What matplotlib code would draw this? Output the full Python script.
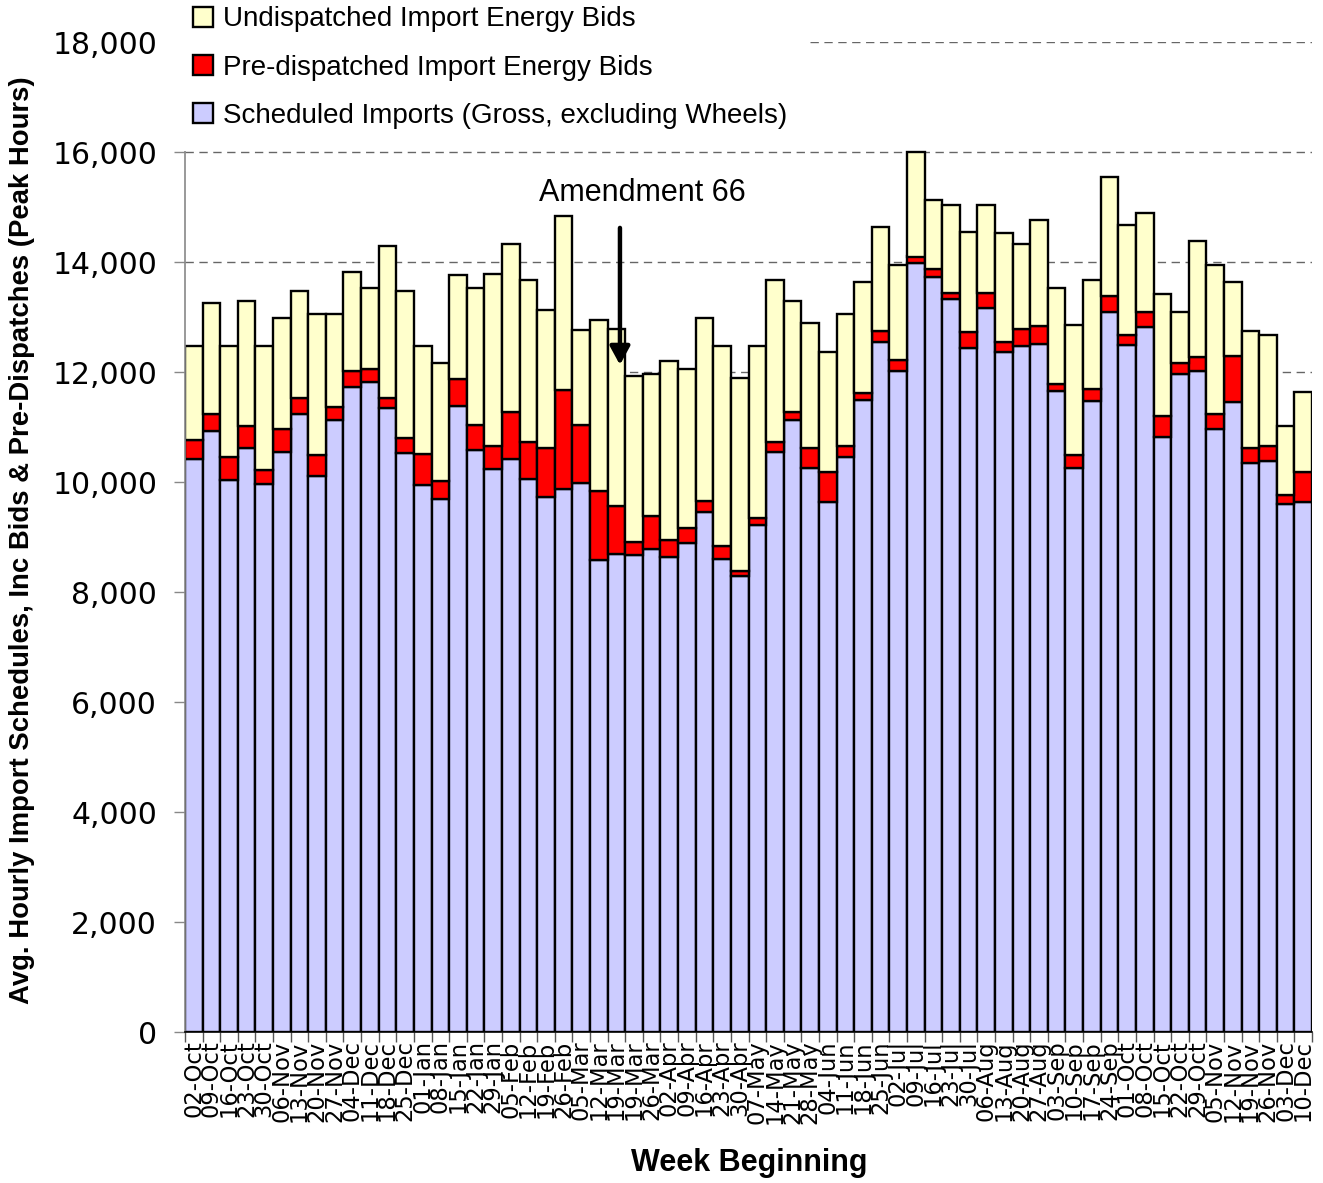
import numpy as np
import matplotlib
matplotlib.use("Agg")
import matplotlib.pyplot as plt
from matplotlib.ticker import FuncFormatter, FixedLocator

weeks = ["02-Oct", "09-Oct", "16-Oct", "23-Oct", "30-Oct", "06-Nov", "13-Nov", "20-Nov",
         "27-Nov", "04-Dec", "11-Dec", "18-Dec", "25-Dec", "01-Jan", "08-Jan", "15-Jan",
         "22-Jan", "29-Jan", "05-Feb", "12-Feb", "19-Feb", "26-Feb", "05-Mar", "12-Mar",
         "19-Mar", "19-Mar", "26-Mar", "02-Apr", "09-Apr", "16-Apr", "23-Apr", "30-Apr",
         "07-May", "14-May", "21-May", "28-May", "04-Jun", "11-Jun", "18-Jun", "25-Jun",
         "02-Jul", "09-Jul", "16-Jul", "23-Jul", "30-Jul", "06-Aug", "13-Aug", "20-Aug",
         "27-Aug", "03-Sep", "10-Sep", "17-Sep", "24-Sep", "01-Oct", "08-Oct", "15-Oct",
         "22-Oct", "29-Oct", "05-Nov", "12-Nov", "19-Nov", "26-Nov", "03-Dec", "10-Dec"]

scheduled = [10420, 10920, 10040, 10610, 9960, 10540, 11240, 10110, 11120, 11730, 11810, 11340,
             10530, 9950, 9690, 11390, 10580, 10230, 10420, 10060, 9730, 9870, 9990, 8590,
             8700, 8670, 8790, 8640, 8900, 9450, 8600, 8300, 9220, 10540, 11120, 10260,
             9640, 10460, 11500, 12550, 12010, 13990, 13720, 13330, 12430, 13160, 12360, 12470,
             12510, 11660, 10260, 11470, 13090, 12500, 12810, 10810, 11960, 12020, 10960, 11460,
             10350, 10380, 9600, 9640]

predispatched = [340, 320, 420, 400, 260, 420, 280, 390, 240, 290, 240, 180,
                 270, 560, 320, 480, 450, 430, 850, 660, 880, 1810, 1050, 1250,
                 870, 240, 590, 300, 260, 210, 240, 80, 120, 190, 160, 360,
                 550, 200, 120, 200, 200, 110, 160, 110, 290, 280, 190, 310,
                 320, 120, 240, 230, 300, 170, 290, 390, 210, 260, 270, 830,
                 260, 280, 160, 550]

undispatched = [1710, 2010, 2010, 2280, 2250, 2020, 1960, 2550, 1700, 1800, 1470, 2770,
                2670, 1970, 2160, 1890, 2490, 3130, 3060, 2950, 2520, 3160, 1720, 3100,
                3210, 3020, 2590, 3260, 2890, 3320, 3640, 3520, 3130, 2940, 2010, 2280,
                2180, 2390, 2010, 1890, 1730, 1900, 1240, 1590, 1820, 1590, 1980, 1550,
                1940, 1740, 2360, 1970, 2150, 2010, 1790, 2210, 930, 2100, 2710, 1350,
                2140, 2010, 1260, 1440]

fig = plt.figure(figsize=(13.23, 11.83), dpi=100)
ax = fig.add_axes([185 / 1323, 1 - 1032 / 1183, (1312 - 185) / 1323, 990 / 1183])

x = np.arange(len(weeks))
sch = np.array(scheduled)
pre = np.array(predispatched)
und = np.array(undispatched)

ax.bar(x, sch, width=1.0, color="#CCCCFF", edgecolor="black", linewidth=1.7,
       label="Scheduled Imports (Gross, excluding Wheels)", zorder=2)
ax.bar(x, pre, width=1.0, bottom=sch, color="#FF0000", edgecolor="black", linewidth=1.7,
       label="Pre-dispatched Import Energy Bids", zorder=2)
ax.bar(x, und, width=1.0, bottom=sch + pre, color="#FFFFCC", edgecolor="black", linewidth=1.7,
       label="Undispatched Import Energy Bids", zorder=2)

ax.set_xlim(-0.5, len(weeks) - 0.5)
ax.set_ylim(0, 18000)
ax.set_yticks(np.arange(0, 18001, 2000))
ax.yaxis.set_major_formatter(FuncFormatter(lambda v, p: f"{int(v):,}"))
ax.yaxis.grid(True, linestyle=(0, (6, 4)), color="#666666", linewidth=1.0)
ax.set_axisbelow(True)

# category labels at centres, tick marks at the boundaries
ax.set_xticks(x)
ax.set_xticklabels(weeks, rotation=90, fontsize=16.3, family="DejaVu Sans")
ax.tick_params(axis="x", which="major", length=0, pad=6)
ax.xaxis.set_minor_locator(FixedLocator(np.arange(-0.5, len(weeks), 1.0)))
ax.tick_params(axis="x", which="minor", length=7, color="#555555", width=1)
ax.tick_params(axis="y", labelsize=21.5, length=8, color="#888888", width=1, pad=12)

for s in ["top", "right"]:
    ax.spines[s].set_visible(False)
ax.spines["left"].set_color("#888888")
ax.spines["left"].set_linewidth(1.2)
ax.spines["bottom"].set_color("black")
ax.spines["bottom"].set_linewidth(1.2)

ax.set_xlabel("Week Beginning", fontsize=22, fontweight="bold",
              family=["Liberation Sans", "DejaVu Sans"])
ax.xaxis.set_label_coords(0.501, -0.117)
ax.set_ylabel("Avg. Hourly Import Schedules, Inc Bids & Pre-Dispatches (Peak Hours)",
              fontsize=19.8, fontweight="bold",
              family=["Liberation Sans Narrow", "Liberation Sans", "DejaVu Sans"])
ax.yaxis.set_label_coords(-0.133, 0.497)

# annotation with arrow
ax.annotate("", xy=(24.2, 12130), xytext=(24.2, 14620),
            arrowprops=dict(arrowstyle="-|>,head_width=0.6,head_length=1.1",
                            color="black", lw=3.2, shrinkA=0, shrinkB=0), zorder=5)
ax.text(25.5, 15250, "Amendment 66", ha="center", va="center", fontsize=22,
        family=["Liberation Sans", "DejaVu Sans"], zorder=5)

handles, labels = ax.get_legend_handles_labels()
leg = fig.legend(handles[::-1], labels[::-1], loc="upper left",
                 bbox_to_anchor=(185 / 1323, 1 + 2 / 1183), frameon=True,
                 prop={"family": ["Liberation Sans", "DejaVu Sans"], "size": 20},
                 handlelength=0.72, handleheight=0.72, handletextpad=0.35,
                 labelspacing=0.8, borderpad=0.3, borderaxespad=0.0)
leg.get_frame().set_facecolor("white")
leg.get_frame().set_edgecolor("none")
leg.get_frame().set_alpha(1.0)
leg.get_frame().set_boxstyle("square", pad=0.5)

fig.savefig("out.png", dpi=100)
